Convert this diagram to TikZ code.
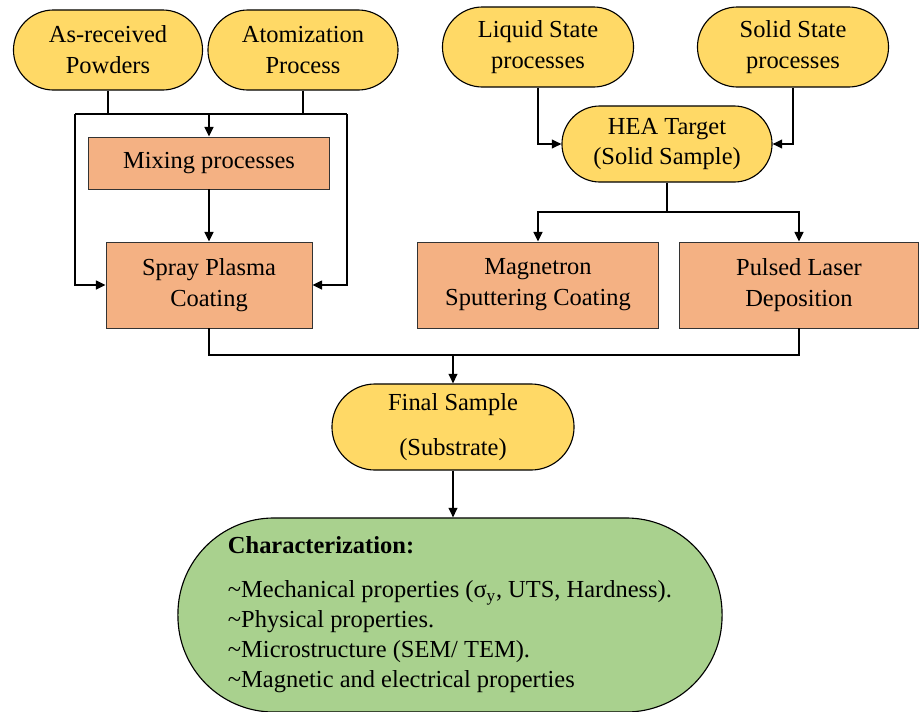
\documentclass[tikz,border=0pt]{standalone}
\usepackage{fontspec}
\setmainfont{Liberation Serif}
\usepackage{xcolor}
\usepackage{tikz}
\usetikzlibrary{arrows.meta, positioning}

\definecolor{pillyellow}{HTML}{FFD966}
\definecolor{boxorange}{HTML}{F4B183}
\definecolor{chargreen}{HTML}{A9D18E}

\begin{document}
\begin{tikzpicture}[x=0.025cm, y=-0.025cm,
    every node/.style={font=\fontsize{17.4}{22}\selectfont, align=center,
      inner sep=2pt},
    pill/.style={draw=black, line width=0.8pt, fill=pillyellow,
      rounded corners=#1},
    stepbox/.style={draw=black!80, line width=0.6pt, fill=boxorange},
    link/.style={line width=1.2pt},
    arr/.style={line width=1.2pt, -{Triangle[length=2.4mm, width=2.2mm]}}]

  \useasboundingbox (0,0) rectangle (920,711);

  % Sources ----------------------------------------------------------------
  \node[pill=1cm, minimum width=4.725cm, minimum height=2cm]
    (asr) at (108,50) {As-received\\Powders};
  \node[pill=1cm, minimum width=4.75cm, minimum height=2cm]
    (atom) at (303,50) {Atomization\\Process};
  \node[pill=1cm, minimum width=4.775cm, minimum height=2cm]
    (liq) at (538,47) {Liquid State\\processes};
  \node[pill=1cm, minimum width=4.775cm, minimum height=2cm]
    (sol) at (793,47) {Solid State\\processes};
  \node[pill=0.95cm, minimum width=5.25cm, minimum height=1.9cm]
    (hea) at (667,144) {HEA Target\\(Solid Sample)};

  % Processing boxes -------------------------------------------------------
  \node[stepbox, minimum width=6.025cm, minimum height=1.3cm]
    (mix) at (209,163) {Mixing processes};
  \node[stepbox, minimum width=5.15cm, minimum height=2.15cm]
    (spray) at (209,285) {Spray Plasma\\Coating};
  \node[stepbox, minimum width=6.025cm, minimum height=2.15cm]
    (mag) at (538,285) {Magnetron\\Sputtering Coating};
  \node[stepbox, minimum width=5.975cm, minimum height=2.15cm]
    (pld) at (799,285) {Pulsed Laser\\Deposition};

  % Result -----------------------------------------------------------------
  \node[pill=1.075cm, minimum width=6.05cm, minimum height=2.15cm]
    (final) at (453,427) {Final Sample\\[10pt](Substrate)};
  \node[draw=black, line width=0.8pt, fill=chargreen, rounded corners=2.4cm,
        minimum width=13.6cm, minimum height=4.85cm, align=left,
        font=\fontsize{17.4}{21.3}\selectfont]
    (charac) at (450,615)
    {\textbf{Characterization:}\\[10pt]
     \textasciitilde Mechanical properties (σ\textsubscript{y}, UTS, Hardness).\\
     \textasciitilde Physical properties.\\
     \textasciitilde Microstructure (SEM/ TEM).\\
     \textasciitilde Magnetic and electrical properties};

  % Junctions --------------------------------------------------------------
  \coordinate (splitL) at (75,114);
  \coordinate (splitR) at (347,114);
  \coordinate (splitH) at (667,212);
  \coordinate (merge) at (453,355);

  % Left branch ------------------------------------------------------------
  \draw[link] (asr.south) -- (asr.south |- splitL);
  \draw[link] (atom.south) -- (atom.south |- splitR);
  \draw[link] (splitL) -- (splitR);
  \draw[arr] (mix.north |- splitL) -- (mix.north);
  \draw[arr] (splitL) |- (spray.west);
  \draw[arr] (splitR) |- (spray.east);
  \draw[arr] (mix) -- (spray);

  % Right branch -----------------------------------------------------------
  \draw[arr] (liq.south) |- (hea.west);
  \draw[arr] (sol.south) |- (hea.east);
  \draw[link] (hea.south) -- (splitH);
  \draw[arr] (splitH) -| (mag.north);
  \draw[arr] (splitH) -| (pld.north);

  % Merge to final sample --------------------------------------------------
  \draw[link] (spray.south) |- (merge);
  \draw[link] (pld.south) |- (merge);
  \draw[arr] (merge) -- (final.north);
  \draw[arr] (final.south) -- (final.south |- charac.north);

\end{tikzpicture}
\end{document}
